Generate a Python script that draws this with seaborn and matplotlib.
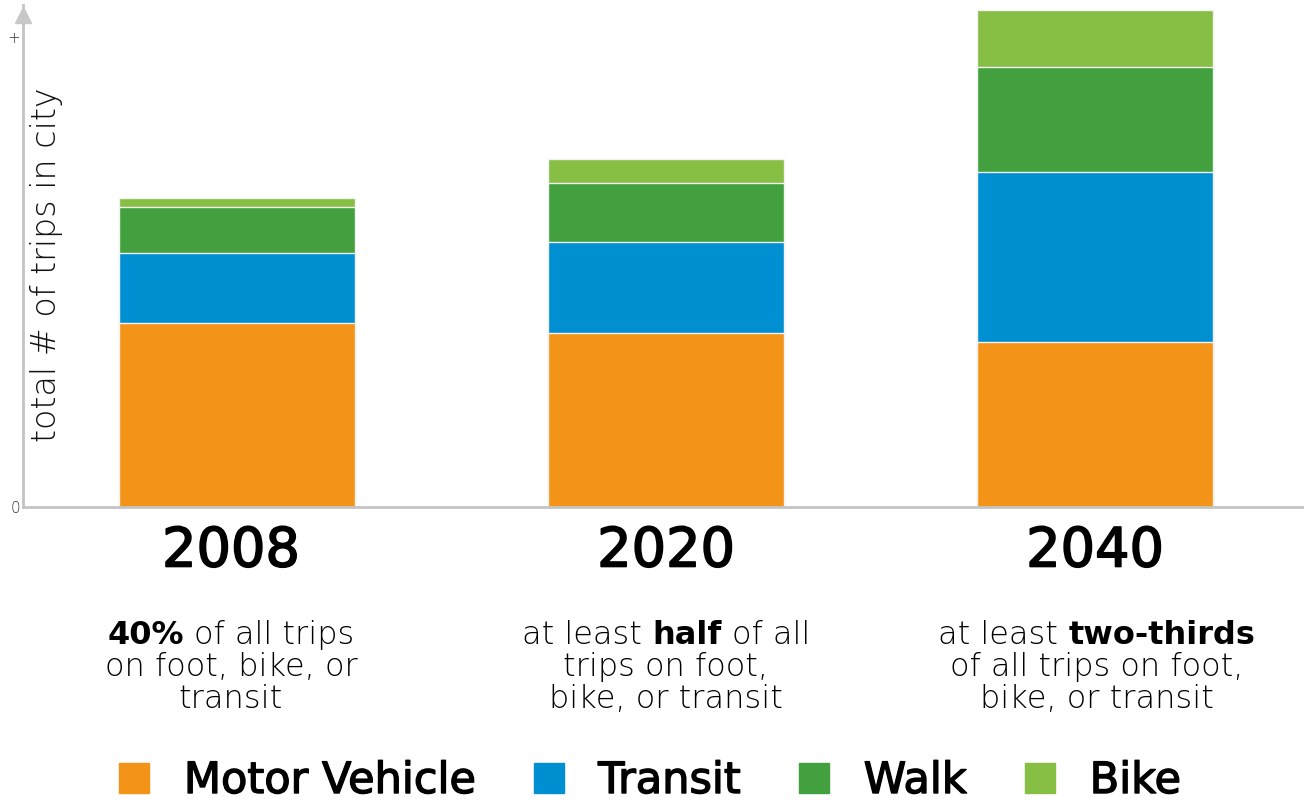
import numpy as np
import pandas as pd
import matplotlib
matplotlib.use("Agg")
import matplotlib.pyplot as plt
import matplotlib.patheffects as pe
import seaborn as sns
from matplotlib.lines import Line2D
from matplotlib.transforms import blended_transform_factory

# ---------------- data ----------------
years = ["2008", "2020", "2040"]
modes = ["Motor Vehicle", "Transit", "Walk", "Bike"]
motor_vehicle = [184, 174, 165]
transit = [70, 91, 170]
walk = [46, 59, 105]
bike = [9, 24, 57]
colors = ["#F39317", "#0090D1", "#43A03F", "#86BF43"]
y_tick_values = [0, 470]
y_tick_labels = ["0", "+"]
y_label = "total # of trips in city"
captions = [
    [[("40%", "bold"), ("of all trips", 200)],
     [("on foot, bike, or", 200)],
     [("transit", 200)]],
    [[("at least", 200), ("half", "bold"), ("of all", 200)],
     [("trips on foot,", 200)],
     [("bike, or transit", 200)]],
    [[("at least", 200), ("two-thirds", "bold")],
     [("of all trips on foot,", 200)],
     [("bike, or transit", 200)]],
]

# ---------------- style ----------------
sns.set_theme(style="white")
plt.rcParams["font.family"] = ["DejaVu Sans"]

W, H = 1304, 800
fig = plt.figure(figsize=(W / 100, H / 100), dpi=100)
ax = fig.add_axes([23 / W, 1 - 507 / H, 1 - 23 / W, (507 - 5) / H])

df = pd.DataFrame({"year": years, "Motor Vehicle": motor_vehicle,
                   "Transit": transit, "Walk": walk, "Bike": bike})
cum = df[modes].cumsum(axis=1)
cum["year"] = years

for mode, color in reversed(list(zip(modes, colors))):
    sns.barplot(data=cum, x="year", y=mode, color=color, saturation=1,
                width=0.55, edgecolor="#F2F2F2", linewidth=1.0,
                errorbar=None, ax=ax)

ax.set_xlim(-0.4988, 2.487)
ax.set_ylim(0, 502)
for s in ["top", "right"]:
    ax.spines[s].set_visible(False)
for s in ["left", "bottom"]:
    ax.spines[s].set_color("#C4C4C4")
    ax.spines[s].set_linewidth(2)
ax.set_xlabel("")
ax.set_ylabel("")
ax.set_xticks([0, 1, 2])
ax.set_xticklabels(["", "", ""])
ax.set_yticks(y_tick_values)
ax.set_yticklabels(y_tick_labels, fontsize=11, color="#333333",
                   fontweight=200)
ax.tick_params(axis="both", length=0, pad=2)

# arrow head on y axis
ax.plot([-0.4988], [492], marker="^", markersize=11, color="#C8C8C8",
        clip_on=False, zorder=5)

# y label
fig.text(47 / W, 1 - 265 / H, y_label, rotation=90, ha="center", va="center",
         fontsize=24, fontweight=200, color="#111111")

# year labels
thick = [pe.withStroke(linewidth=1.2, foreground="black")]
trans = blended_transform_factory(ax.transData, fig.transFigure)
year_x = [-0.014, 1.0, 2.0]
for xi, yr in zip(year_x, years):
    ax.text(xi, 1 - 566.5 / H, yr, transform=trans, ha="center",
            va="baseline", fontsize=39, fontweight="normal", color="black",
            path_effects=thick)

# captions with mixed weights
fig.canvas.draw()
renderer = fig.canvas.get_renderer()
cap_size = 23
probe = fig.text(0, 0, "x x", fontsize=cap_size, fontweight=200)
w1 = probe.get_window_extent(renderer).width
probe.set_text("xx")
w2 = probe.get_window_extent(renderer).width
space_w = w1 - w2
probe.remove()

baselines = [643.5, 676.5, 708.5]
cap_x = [-0.014, 1.0, 2.004]
for ci, lines in enumerate(captions):
    cx_disp = ax.transData.transform((cap_x[ci], 0))[0]
    for li, segs in enumerate(lines):
        texts = []
        widths = []
        for txt, wt in segs:
            t = fig.text(0, 0, txt, fontsize=cap_size, fontweight=wt,
                         color="black", ha="left", va="baseline",
                         transform=None)
            widths.append(t.get_window_extent(renderer).width)
            texts.append(t)
        total = sum(widths) + space_w * (len(segs) - 1)
        x0 = cx_disp - total / 2
        ydisp = H - baselines[li]
        for t, w in zip(texts, widths):
            t.set_position((x0, ydisp))
            x0 += w + space_w

# legend
handles = [Line2D([], [], marker="s", linestyle="", markersize=21.6,
                  color=c) for c in colors]
leg = fig.legend(handles, modes, loc="center",
                 bbox_to_anchor=(0.4985, 1 - 781 / H),
                 ncol=4, frameon=False, prop={"size": 31, "weight": "normal"},
                 handlelength=0.7, handletextpad=0.8, columnspacing=1.36,
                 labelcolor="black")
for t in leg.get_texts():
    t.set_path_effects([pe.withStroke(linewidth=1.0, foreground="black")])

fig.savefig("out.png", dpi=100)
